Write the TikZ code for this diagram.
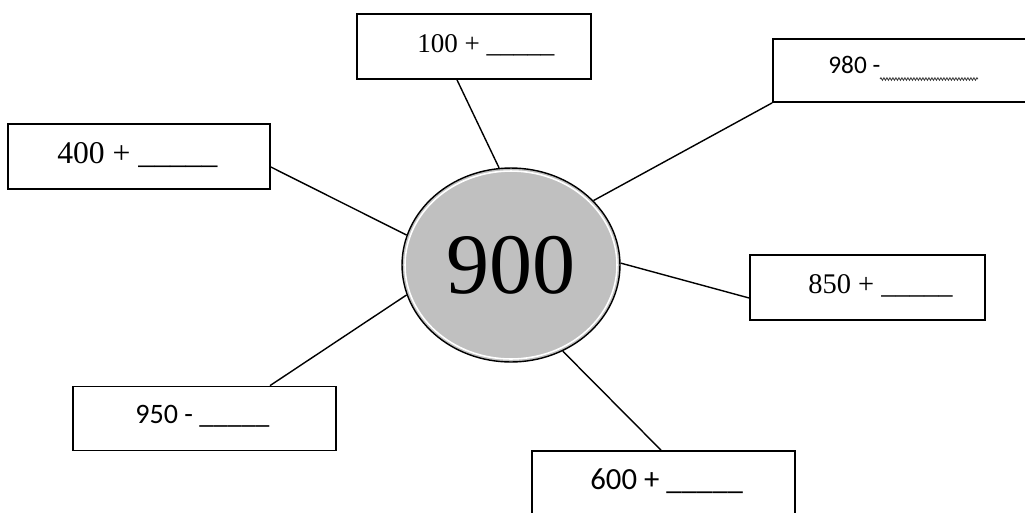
\documentclass[tikz,border=0pt]{standalone}
\usepackage{fontspec}
\setmainfont{Liberation Serif}
\newfontfamily\calfont{Carlito}
\usetikzlibrary{calc,shapes.geometric,decorations.pathmorphing}

\begin{document}
\begin{tikzpicture}[x=0.02cm,y=-0.02cm,
	numbox/.style={draw,line width=1pt,rectangle,inner sep=0pt},
	numtext/.style={anchor=base west,inner sep=0pt},
	link/.style={line width=0.8pt}]
				\useasboundingbox (0,0) rectangle (1025,512);
				\clip (0,0) rectangle (1025,512);
				\node[numbox,minimum width=4.68cm,minimum height=1.30cm] (b100) at (474,46.5) {};
				\node[numbox,minimum width=5.34cm,minimum height=1.26cm] (b980) at (906.5,70.5) {};
				\node[numbox,minimum width=5.24cm,minimum height=1.30cm] (b400) at (139,156.5) {};
				\node[numbox,minimum width=4.70cm,minimum height=1.30cm] (b850) at (867.5,287.5) {};
				\node[numbox,minimum width=5.26cm,minimum height=1.28cm] (b950) at (204.5,418.5) {};
				\node[numbox,minimum width=5.26cm,minimum height=1.48cm] (b600) at (663.5,488) {};
				\node[ellipse,draw,line width=0.8pt,fill={rgb,255:red,192;green,192;blue,192},
					minimum width=4.36cm,minimum height=3.88cm,inner sep=0pt,
					font=\fontsize{49}{49}\selectfont] (c) at (511,265) {900};
				\draw[white,line width=0.9pt] (c.center) ellipse (2.12cm and 1.88cm);
				\draw[link] ([xshift=-0.34cm]b100.south) -- (c.97);
				\draw[link] (b980.south west) -- (c.38.7);
				\draw[link] ([yshift=-0.21cm]b400.east) -- (c.164);
				\draw[link] ([yshift=-0.21cm]b850.west) -- (c.1.6);
				\draw[link] ([xshift=1.31cm]b950.north) -- (c.196);
				\draw[link] ([xshift=-0.05cm]b600.north) -- (c.301.5);
				\node[numtext,font=\fontsize{15.4}{17}\selectfont] (t100) at (417,52) {100 + \_\_\_\_\_};
				\node[numtext,font=\calfont\fontsize{14.4}{16}\selectfont] (t980) at (828,73) {980 -};
				\coordinate (w1) at (880,79);
				\coordinate (w2) at (978,79);
				\draw[black!75,line width=0.5pt,decorate,
					decoration={snake,segment length=0.06cm,amplitude=0.025cm}] (w1) -- (w2);
				\node[numtext,font=\fontsize{18}{20}\selectfont] (t400) at (57,163) {400 + \_\_\_\_\_};
				\node[numtext,font=\fontsize{16.2}{18}\selectfont] (t850) at (808,293) {850 + \_\_\_\_\_};
				\node[numtext,font=\calfont\fontsize{16}{18}\selectfont] (t950) at (135,423) {950 - \_\_\_\_\_};
				\node[numtext,font=\calfont\fontsize{17.5}{19}\selectfont] (t600) at (590,489) {600 + \_\_\_\_\_};
			\end{tikzpicture}
\end{document}
